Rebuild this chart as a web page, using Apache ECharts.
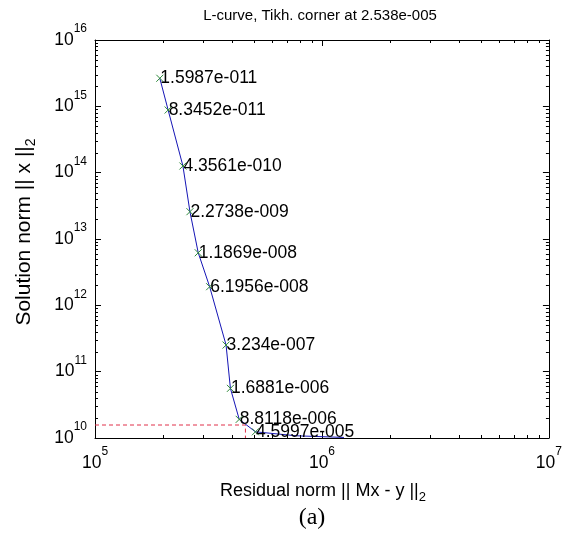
<!DOCTYPE html>
<html>
<head>
<meta charset="utf-8">
<script src="https://cdn.jsdelivr.net/npm/echarts@6/dist/echarts.min.js"></script>
<style>
  html, body { margin: 0; padding: 0; background: #ffffff; }
  #chart { width: 565px; height: 535px; }
</style>
</head>
<body>
<div id="chart"></div>
<script>
// Regularisation parameters written beside the marked points
const lambdaLabels = ['1.5987e-011', '8.3452e-011', '4.3561e-010', '2.2738e-009', '1.1869e-008',
                      '6.1956e-008', '3.234e-007', '1.6881e-006', '8.8118e-006', '4.5997e-005'];
// Residual norm || Mx - y ||_2 at the marked points
const residualNorm = [1.93e5, 2.10e5, 2.44e5, 2.62e5, 2.85e5, 3.20e5, 3.78e5, 3.95e5, 4.32e5, 5.09e5];
// Solution norm || x ||_2 at the marked points
const solutionNorm = [2.65e15, 8.8e14, 1.26e14, 2.58e13, 6.2e12, 1.91e12, 2.52e11, 5.6e10, 1.91e10, 1.24e10];
// Flat tail of the curve after the last marked point
const tailResidual = [7.7e5, 1.25e6];
const tailSolution = [1.08e10, 1.02e10];
// Corner of the L-curve
const cornerResidual = 4.6e5;
const cornerSolution = 1.57e10;
// Axis decades
const xDecades = [5, 6, 7];
const yDecades = [10, 11, 12, 13, 14, 15, 16];

const xMin = Math.pow(10, xDecades[0]), xMax = Math.pow(10, xDecades[xDecades.length - 1]);
const yMin = Math.pow(10, yDecades[0]), yMax = Math.pow(10, yDecades[yDecades.length - 1]);

const FONT = '"Liberation Sans", Arial, sans-serif';

const curve = residualNorm.map((r, i) => [r, solutionNorm[i]])
  .concat(tailResidual.map((r, i) => [r, tailSolution[i]]));
const marked = residualNorm.map((r, i) => ({ value: [r, solutionNorm[i]], name: lambdaLabels[i] }));

// minor log ticks (2..9 within each decade) for both axes
const minorTicks = [];
xDecades.slice(0, -1).forEach(k => {
  for (let m = 2; m <= 9; m++) minorTicks.push([m * Math.pow(10, k), yMin, 0]);
});
yDecades.slice(0, -1).forEach(k => {
  for (let m = 2; m <= 9; m++) minorTicks.push([xMin, m * Math.pow(10, k), 1]);
});

// "10" centred on the tick with its exponent raised above
const powerLabel = v => '{b|10}{s|' + Math.round(Math.log10(v)) + '}';
const powerRich = {
  b: { fontFamily: FONT, fontSize: 17.5, color: '#000', lineHeight: 34, verticalAlign: 'middle' },
  s: { fontFamily: FONT, fontSize: 12, color: '#000', lineHeight: 12, verticalAlign: 'top' }
};

const axisCommon = {
  type: 'log',
  logBase: 10,
  splitLine: { show: false },
  axisLine: { show: true, onZero: false, lineStyle: { color: '#000', width: 1 } },
  axisTick: { show: true, inside: true, length: 6, lineStyle: { color: '#000', width: 1 } }
};

const chart = echarts.init(document.getElementById('chart'), null, { renderer: 'canvas' });

chart.setOption({
  animation: false,
  backgroundColor: '#ffffff',
  title: {
    text: 'L-curve, Tikh. corner at 2.538e-005',
    left: 315, top: 3, textAlign: 'center',
    textStyle: { fontFamily: FONT, fontSize: 15, fontWeight: 'normal', color: '#000' }
  },
  grid: { left: 95, right: 8, top: 40, bottom: 97 },
  xAxis: [
    Object.assign({}, axisCommon, {
      position: 'bottom', min: xMin, max: xMax,
      axisLabel: { margin: 8, formatter: powerLabel, rich: powerRich }
    }),
    Object.assign({}, axisCommon, {
      position: 'top', min: xMin, max: xMax, axisLabel: { show: false }
    })
  ],
  yAxis: [
    Object.assign({}, axisCommon, {
      position: 'left', min: yMin, max: yMax,
      axisLabel: { margin: 8, formatter: powerLabel, rich: powerRich }
    }),
    Object.assign({}, axisCommon, {
      position: 'right', min: yMin, max: yMax, axisLabel: { show: false }
    })
  ],
  graphic: [
    {
      type: 'text', x: 24, y: 232, rotation: Math.PI / 2,
      style: {
        text: '{n|Solution norm || x ||}{u|2}',
        align: 'center', verticalAlign: 'middle',
        rich: {
          n: { fontFamily: FONT, fontSize: 21, fill: '#000', lineHeight: 28, verticalAlign: 'middle' },
          u: { fontFamily: FONT, fontSize: 14, fill: '#000', lineHeight: 16, verticalAlign: 'bottom' }
        }
      }
    },
    {
      type: 'text', x: 323, y: 491,
      style: {
        text: '{n|Residual norm || Mx - y ||}{u|2}',
        align: 'center', verticalAlign: 'middle',
        rich: {
          n: { fontFamily: FONT, fontSize: 18, fill: '#000', lineHeight: 26, verticalAlign: 'middle' },
          u: { fontFamily: FONT, fontSize: 13, fill: '#000', lineHeight: 15, verticalAlign: 'bottom' }
        }
      }
    },
    {
      type: 'text', x: 312, y: 518,
      style: {
        text: '(a)', align: 'center', verticalAlign: 'middle',
        font: '24px "Liberation Serif", "Times New Roman", serif', fill: '#000'
      }
    }
  ],
  series: [
    {
      // minor ticks drawn on all four sides of the box
      type: 'custom',
      xAxisIndex: 0, yAxisIndex: 0,
      silent: true, clip: false, z: 5,
      data: minorTicks,
      encode: { x: 0, y: 1 },
      renderItem: (params, api) => {
        const kind = api.value(2);
        const style = { stroke: '#000', lineWidth: 1 };
        const L = 3;
        if (kind === 0) {
          const v = api.value(0);
          const b = api.coord([v, yMin]);
          const t = api.coord([v, yMax]);
          const x = Math.round(b[0]) + 0.5;
          return { type: 'group', children: [
            { type: 'line', shape: { x1: x, y1: b[1], x2: x, y2: b[1] - L }, style },
            { type: 'line', shape: { x1: x, y1: t[1], x2: x, y2: t[1] + L }, style }
          ] };
        }
        const v = api.value(1);
        const l = api.coord([xMin, v]);
        const r = api.coord([xMax, v]);
        const y = Math.round(l[1]) + 0.5;
        return { type: 'group', children: [
          { type: 'line', shape: { x1: l[0], y1: y, x2: l[0] + L, y2: y }, style },
          { type: 'line', shape: { x1: r[0], y1: y, x2: r[0] - L, y2: y }, style }
        ] };
      }
    },
    {
      // corner guide lines
      type: 'line',
      data: [[xMin, cornerSolution], [cornerResidual, cornerSolution], [cornerResidual, yMin]],
      showSymbol: false, silent: true, z: 3,
      lineStyle: { color: '#e0304a', width: 1, type: [4, 3] }
    },
    {
      type: 'line',
      data: curve,
      showSymbol: false, silent: true, z: 4,
      lineStyle: { color: '#1515b5', width: 1 }
    },
    {
      type: 'scatter',
      data: marked,
      symbol: 'path://M0,0L10,10M10,0L0,10',
      symbolSize: 7, z: 6,
      itemStyle: { color: 'rgba(0,0,0,0)', borderColor: '#2f8a3a', borderWidth: 1, opacity: 1 },
      label: {
        show: true, position: 'right', distance: -3.5,
        formatter: p => p.name,
        fontFamily: FONT, fontSize: 17.5, color: '#000', opacity: 1
      }
    }
  ]
});
</script>
</body>
</html>
